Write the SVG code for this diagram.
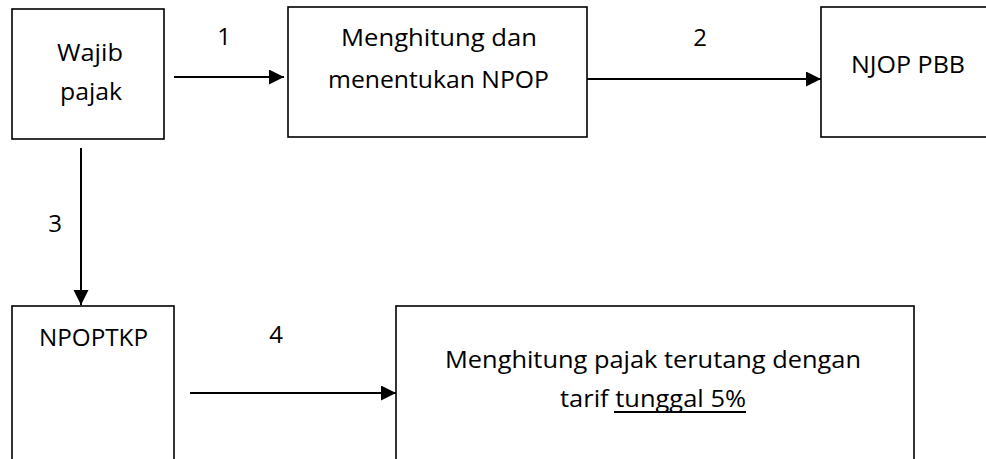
<svg xmlns="http://www.w3.org/2000/svg" width="986" height="459" viewBox="0 0 986 459">
<style>
.box{fill:#fff;stroke:#000;stroke-width:1.6}
.t{font-family:"Open Sans","Liberation Sans",sans-serif;font-size:24px;fill:#000}
.c{stroke:#000;stroke-width:2;fill:none}
</style>
<defs>
<marker id="ah" markerUnits="userSpaceOnUse" markerWidth="16" markerHeight="16" refX="15" refY="7.5" orient="auto">
<path d="M0,0 L15,7.5 L0,15 Z" fill="#000"/>
</marker>
</defs>
<rect width="986" height="459" fill="#fff"/>
<g id="wajib-pajak">
<rect class="box" x="12" y="9" width="152" height="130"/>
<text class="t" x="57" y="61" textLength="66" lengthAdjust="spacingAndGlyphs">Wajib</text>
<text class="t" x="60" y="100" textLength="62" lengthAdjust="spacingAndGlyphs">pajak</text>
</g>
<g id="menentukan-npop">
<rect class="box" x="288" y="7" width="299" height="130"/>
<text class="t" x="341" y="46" textLength="196" lengthAdjust="spacingAndGlyphs">Menghitung dan</text>
<text class="t" x="328" y="88" textLength="221" lengthAdjust="spacingAndGlyphs">menentukan NPOP</text>
</g>
<g id="njop-pbb">
<rect class="box" x="821" y="7" width="180" height="130"/>
<text class="t" x="851" y="73" textLength="114" lengthAdjust="spacingAndGlyphs">NJOP PBB</text>
</g>
<g id="npoptkp">
<rect class="box" x="12" y="306" width="162" height="170"/>
<text class="t" x="39" y="346" textLength="109" lengthAdjust="spacingAndGlyphs">NPOPTKP</text>
</g>
<g id="pajak-terutang">
<rect class="box" x="396" y="306" width="518" height="170"/>
<text class="t" x="445" y="368" textLength="416" lengthAdjust="spacingAndGlyphs">Menghitung pajak terutang dengan</text>
<text class="t" x="560" y="407" textLength="186" lengthAdjust="spacingAndGlyphs">tarif tunggal 5%</text>
<line x1="614" y1="412" x2="746" y2="412" stroke="#000" stroke-width="2"/>
</g>
<g id="connectors">
<line class="c" x1="174" y1="77" x2="284" y2="77" marker-end="url(#ah)"/>
<line class="c" x1="587" y1="79" x2="821" y2="79" marker-end="url(#ah)"/>
<line class="c" x1="81" y1="148" x2="81" y2="305" marker-end="url(#ah)"/>
<line class="c" x1="190" y1="393" x2="396" y2="393" marker-end="url(#ah)"/>
<text class="t" x="224" y="45" text-anchor="middle">1</text>
<text class="t" x="700" y="46" text-anchor="middle">2</text>
<text class="t" x="55" y="232" text-anchor="middle">3</text>
<text class="t" x="276" y="343" text-anchor="middle">4</text>
</g>
</svg>
